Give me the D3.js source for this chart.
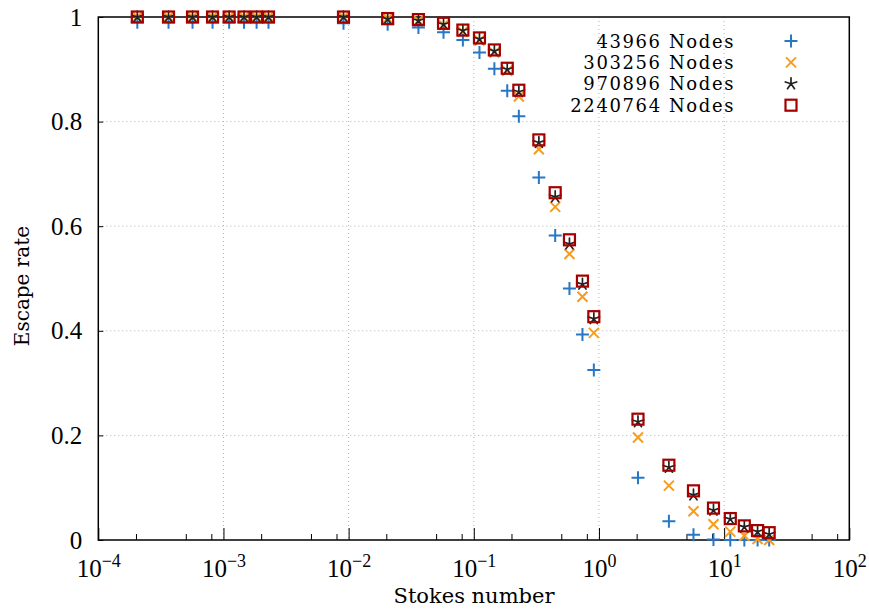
<!DOCTYPE html>
<html>
<head>
<meta charset="utf-8">
<script src="https://cdn.jsdelivr.net/npm/d3@7"></script>
<style>
  html, body { margin: 0; padding: 0; background: #fff; }
  svg { display: block; }
  .tick text { font-family: "Liberation Serif", serif; }
</style>
</head>
<body>
<svg id="chart" width="869" height="610"></svg>
<script>
// Stokes numbers shared by every mesh resolution
const stokes = [0.000205, 0.000364, 0.000566, 0.000818, 0.00111, 0.00146, 0.00184, 0.00229,
  0.0091, 0.0205, 0.0361, 0.0573, 0.0818, 0.111, 0.146, 0.185, 0.229,
  0.331, 0.447, 0.581, 0.738, 0.910,
  2.05, 3.62, 5.69, 8.22, 11.2, 14.5, 18.5, 22.9];

// Escape rate per mesh resolution
const nodes43966 = [0.990, 0.990, 0.990, 0.990, 0.990, 0.990, 0.990, 0.990,
  0.988, 0.986, 0.980, 0.971, 0.956, 0.932, 0.901, 0.859, 0.810,
  0.693, 0.582, 0.481, 0.393, 0.325,
  0.119, 0.036, 0.010, 0.001, 0.000, 0.000, 0.000, 0.000];
const nodes303256 = [1.000, 1.000, 1.000, 1.000, 1.000, 1.000, 1.000, 1.000,
  1.000, 0.997, 0.993, 0.985, 0.972, 0.955, 0.932, 0.897, 0.848,
  0.747, 0.637, 0.547, 0.465, 0.396,
  0.196, 0.104, 0.055, 0.030, 0.016, 0.008, 0.002, 0.000];
const nodes970896 = [1.000, 1.000, 1.000, 1.000, 1.000, 1.000, 1.000, 1.000,
  1.000, 0.996, 0.993, 0.986, 0.974, 0.958, 0.935, 0.900, 0.857,
  0.760, 0.656, 0.566, 0.489, 0.423,
  0.226, 0.139, 0.086, 0.057, 0.040, 0.025, 0.016, 0.011];
const nodes2240764 = [1.000, 1.000, 1.000, 1.000, 1.000, 1.000, 1.000, 1.000,
  1.000, 0.997, 0.995, 0.988, 0.975, 0.960, 0.937, 0.902, 0.860,
  0.765, 0.664, 0.574, 0.495, 0.427,
  0.231, 0.143, 0.094, 0.061, 0.041, 0.027, 0.018, 0.014];

const seriesNames = ["43966 Nodes", "303256 Nodes", "970896 Nodes", "2240764 Nodes"];
const seriesValues = [nodes43966, nodes303256, nodes970896, nodes2240764];
const seriesMarks = ["plus", "cross", "asterisk", "square"];
const seriesColors = ["#2777c6", "#f79c1c", "#222222", "#a40000"];

const xMajorTicks = [1e-4, 1e-3, 1e-2, 1e-1, 1e0, 1e1, 1e2];
const xExponents = ["−4", "−3", "−2", "−1", "0", "1", "2"];
const yTicks = [0, 0.2, 0.4, 0.6, 0.8, 1];
const yTickLabels = ["0", "0.2", "0.4", "0.6", "0.8", "1"];

const textFont = "DejaVu Serif, serif";

const svg = d3.select("#chart");
const plotLeft = 98.3, plotRight = 849.3, plotTop = 17, plotBottom = 540;

const x = d3.scaleLog().domain([1e-4, 1e2]).range([plotLeft, plotRight]);
const y = d3.scaleLinear().domain([0, 1]).range([plotBottom, plotTop]);

// minor ticks at 2, 5 and 8 within each decade
const xMinorTicks = [];
for (let e = -4; e < 2; e++) [2, 5, 8].forEach(m => xMinorTicks.push(m * Math.pow(10, e)));

// dotted grid
const grid = svg.append("g");
grid.selectAll("line.gx").data(xMajorTicks.slice(1, -1)).join("line")
  .attr("x1", d => x(d)).attr("x2", d => x(d))
  .attr("y1", plotTop).attr("y2", plotBottom)
  .attr("stroke", "#b4b4b4").attr("stroke-width", 1).attr("stroke-dasharray", "1,3");
grid.selectAll("line.gy").data(yTicks.slice(1, -1)).join("line")
  .attr("x1", plotLeft).attr("x2", plotRight)
  .attr("y1", d => y(d)).attr("y2", d => y(d))
  .attr("stroke", "#b4b4b4").attr("stroke-width", 1).attr("stroke-dasharray", "1,3");

// x axis: minor ticks
svg.append("g").attr("transform", `translate(0,${plotBottom})`)
  .call(d3.axisBottom(x).tickValues(xMinorTicks).tickSize(-6).tickFormat(() => ""))
  .call(g => g.select(".domain").remove())
  .call(g => g.selectAll(".tick line").attr("stroke", "#000").attr("stroke-width", 1));

// x axis: major ticks with power-of-ten labels
const xAxisG = svg.append("g").attr("transform", `translate(0,${plotBottom})`)
  .call(d3.axisBottom(x).tickValues(xMajorTicks).tickSize(-12).tickPadding(12).tickFormat(() => ""))
  .call(g => g.select(".domain").remove())
  .call(g => g.selectAll(".tick line").attr("stroke", "#000").attr("stroke-width", 1));
xAxisG.selectAll(".tick text").each(function (d, i) {
  const t = d3.select(this).attr("fill", "#000").attr("dy", "1.0em")
    .style("font-size", "25px");
  t.append("tspan").text("10");
  t.append("tspan").style("font-size", "18px").attr("dy", "-0.55em").text(xExponents[i]);
});

// y axis
svg.append("g").attr("transform", `translate(${plotLeft},0)`)
  .call(d3.axisLeft(y).tickValues(yTicks).tickSize(-5).tickPadding(16)
    .tickFormat((d, i) => yTickLabels[i]))
  .call(g => g.select(".domain").remove())
  .call(g => g.selectAll(".tick line").attr("stroke", "#000").attr("stroke-width", 1))
  .call(g => g.selectAll(".tick text").attr("fill", "#000").style("font-size", "25px"));

// frame
svg.append("rect").attr("x", plotLeft).attr("y", plotTop)
  .attr("width", plotRight - plotLeft).attr("height", plotBottom - plotTop)
  .attr("fill", "none").attr("stroke", "#000").attr("stroke-width", 1.5);

// marker shapes
function drawMark(g, kind, color) {
  if (kind === "plus") {
    g.append("path").attr("d", "M-6.5,0H6.5M0,-6.5V6.5")
      .attr("stroke", color).attr("stroke-width", 2).attr("fill", "none");
  } else if (kind === "cross") {
    g.append("path").attr("d", "M-5,-5L5,5M-5,5L5,-5")
      .attr("stroke", color).attr("stroke-width", 2).attr("fill", "none");
  } else if (kind === "asterisk") {
    let p = "";
    for (let k = 0; k < 5; k++) {
      const a = (90 + 72 * k) * Math.PI / 180;
      p += `M0,0L${(6 * Math.cos(a)).toFixed(2)},${(-6 * Math.sin(a)).toFixed(2)}`;
    }
    g.append("path").attr("d", p)
      .attr("stroke", color).attr("stroke-width", 1.7).attr("fill", "none")
      .attr("stroke-linecap", "round");
  } else {
    g.append("rect").attr("x", -5.5).attr("y", -5.5).attr("width", 11).attr("height", 11)
      .attr("stroke", color).attr("stroke-width", 2.2).attr("fill", "none");
  }
}

// data points
seriesValues.forEach((vals, s) => {
  const pts = stokes.map((sx, i) => ({ sx, v: vals[i] }));
  svg.append("g").selectAll("g").data(pts).join("g")
    .attr("transform", d => `translate(${x(d.sx)},${y(d.v)})`)
    .each(function () { drawMark(d3.select(this), seriesMarks[s], seriesColors[s]); });
});

// legend
const legend = svg.append("g");
seriesNames.forEach((name, i) => {
  const cy = 41 + i * 21.4;
  legend.append("text").attr("x", 735).attr("y", cy + 6.5)
    .attr("text-anchor", "end").attr("font-family", textFont)
    .attr("font-size", 18).attr("letter-spacing", 1.6).attr("fill", "#000").text(name);
  drawMark(legend.append("g").attr("transform", `translate(791,${cy})`), seriesMarks[i], seriesColors[i]);
});

// axis titles
svg.append("text").attr("x", 474).attr("y", 602.5).attr("text-anchor", "middle")
  .attr("font-family", textFont).attr("font-size", 21).attr("fill", "#000")
  .text("Stokes number");
svg.append("text").attr("transform", "translate(29,286) rotate(-90)")
  .attr("text-anchor", "middle")
  .attr("font-family", textFont).attr("font-size", 20).attr("fill", "#000")
  .text("Escape rate");
</script>
</body>
</html>
